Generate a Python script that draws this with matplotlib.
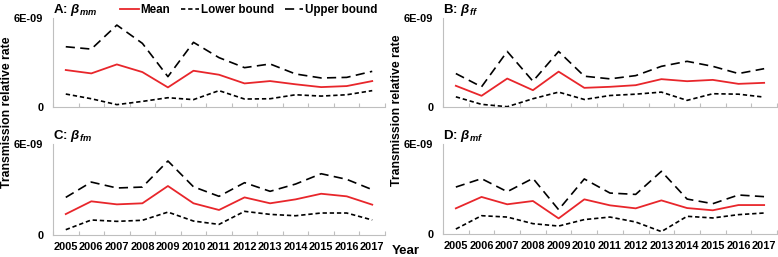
import matplotlib
matplotlib.use("Agg")
import matplotlib.pyplot as plt
import numpy as np

years = ["2005", "2006", "2007", "2008", "2009", "2010", "2011",
         "2012", "2013", "2014", "2015", "2016", "2017"]

# Values in units of 1E-09
mm_mean  = [2.49, 2.26, 2.87, 2.35, 1.31, 2.44, 2.17, 1.58, 1.74, 1.52, 1.33, 1.40, 1.74]
mm_upper = [4.07, 3.91, 5.54, 4.30, 2.04, 4.37, 3.33, 2.65, 2.90, 2.22, 1.95, 1.99, 2.40]
mm_lower = [0.86, 0.54, 0.14, 0.36, 0.61, 0.48, 1.09, 0.52, 0.54, 0.81, 0.72, 0.81, 1.09]

ff_mean  = [1.42, 0.74, 1.91, 1.12, 2.38, 1.28, 1.35, 1.46, 1.87, 1.73, 1.82, 1.55, 1.62]
ff_upper = [2.25, 1.35, 3.75, 1.73, 3.75, 2.07, 1.89, 2.11, 2.74, 3.08, 2.74, 2.25, 2.58]
ff_lower = [0.67, 0.16, 0.00, 0.54, 0.99, 0.49, 0.76, 0.85, 0.99, 0.43, 0.88, 0.85, 0.65]

fm_mean  = [1.36, 2.20, 2.00, 2.07, 3.21, 2.07, 1.63, 2.46, 2.07, 2.33, 2.70, 2.53, 1.98]
fm_upper = [2.46, 3.47, 3.08, 3.14, 4.86, 3.16, 2.53, 3.43, 2.86, 3.34, 4.02, 3.65, 2.97]
fm_lower = [0.33, 0.97, 0.88, 0.95, 1.49, 0.90, 0.68, 1.54, 1.34, 1.25, 1.43, 1.43, 0.97]

mf_mean  = [1.71, 2.47, 1.98, 2.20, 1.04, 2.31, 1.91, 1.71, 2.24, 1.73, 1.58, 1.93, 1.93]
mf_upper = [3.13, 3.69, 2.82, 3.71, 1.62, 3.67, 2.73, 2.64, 4.18, 2.33, 2.02, 2.60, 2.49]
mf_lower = [0.33, 1.22, 1.13, 0.69, 0.53, 0.96, 1.13, 0.80, 0.16, 1.18, 1.07, 1.29, 1.40]

panels = [
    ("A: ", "mm", mm_mean, mm_lower, mm_upper),
    ("B: ", "ff", ff_mean, ff_lower, ff_upper),
    ("C: ", "fm", fm_mean, fm_lower, fm_upper),
    ("D: ", "mf", mf_mean, mf_lower, mf_upper),
]

plt.rcParams['font.family'] = ['Liberation Sans', 'DejaVu Sans']
plt.rcParams['mathtext.fontset'] = 'custom'
plt.rcParams['mathtext.rm'] = 'Liberation Sans:bold'
plt.rcParams['mathtext.bf'] = 'Liberation Sans:bold'
plt.rcParams['mathtext.it'] = 'Liberation Sans:bold:italic'
plt.rcParams['mathtext.bfit'] = 'Liberation Sans:bold:italic'

W, H = 778, 257
fig = plt.figure(figsize=(W / 100, H / 100), dpi=100)

def rect(l, r, t, b):
    return [l / W, 1 - b / H, (r - l) / W, (b - t) / H]

rects = [rect(53, 385, 18.3, 106.7), rect(443, 777, 18.3, 106.7),
         rect(53, 385, 143.7, 234.7), rect(443, 777, 144, 234)]

red = '#e8262b'
spine_c = '#bfbfbf'
x = np.arange(len(years))
scale = 1e-9
tick_fs = 7.9

handles = None
for i, (lab, sub, mean, low, up) in enumerate(panels):
    ax = fig.add_axes(rects[i])
    h1, = ax.plot(x, np.array(mean) * scale, color=red, lw=1.3, label='Mean')
    h2, = ax.plot(x, np.array(low) * scale, color='black', lw=1.2,
                  linestyle=(0, (2.6, 1.7)), label='Lower bound')
    h3, = ax.plot(x, np.array(up) * scale, color='black', lw=1.2,
                  linestyle=(0, (5.5, 3.2)), label='Upper bound')
    if handles is None:
        handles = [h1, h2, h3]
    ax.set_xlim(-0.5, len(years) - 0.5)
    ax.set_ylim(0, 6e-9)
    ax.set_yticks([0, 6e-9])
    ax.set_yticklabels(['0', '6E-09'], fontsize=tick_fs, fontweight='bold')
    ax.set_xticks(np.arange(-0.5, len(years), 1.0))
    ax.set_xticklabels([])
    ax.set_xticks(x, minor=True)
    if i >= 2:
        ax.set_xticklabels(years, minor=True, fontsize=tick_fs, fontweight='bold')
    else:
        ax.set_xticklabels([], minor=True)
    ax.tick_params(axis='x', which='major', direction='in', length=3,
                   color=spine_c, width=0.8)
    ax.tick_params(axis='x', which='minor', length=0, pad=5)
    ax.tick_params(axis='y', direction='in', length=0, pad=7)
    for s in ['top', 'right']:
        ax.spines[s].set_visible(False)
    for s in ['left', 'bottom']:
        ax.spines[s].set_color(spine_c)
        ax.spines[s].set_linewidth(0.8)
    ax.text(0.0, 1.0, lab + r'$\mathbfit{\beta}_{\mathbfit{' + sub + '}}$',
            transform=ax.transAxes, ha='left', va='bottom',
            fontsize=9.5, fontweight='bold')

fig.legend(handles, ['Mean', 'Lower bound', 'Upper bound'],
           loc='upper right', bbox_to_anchor=(388 / W, 1.025), ncol=3,
           frameon=False, handlelength=1.6, handletextpad=0.15,
           columnspacing=0.9, prop={'weight': 'bold', 'size': 8.4})

fig.text(7 / W, 1 - 112 / H, 'Transmission relative rate', rotation=90,
         ha='center', va='center', fontsize=8.8, fontweight='bold')
fig.text(397 / W, 1 - 110 / H, 'Transmission relative rate', rotation=90,
         ha='center', va='center', fontsize=8.8, fontweight='bold')
fig.text(392 / W, 1 - 251 / H, 'Year', ha='left', va='center',
         fontsize=9.5, fontweight='bold')

fig.savefig('out.png', dpi=100)
